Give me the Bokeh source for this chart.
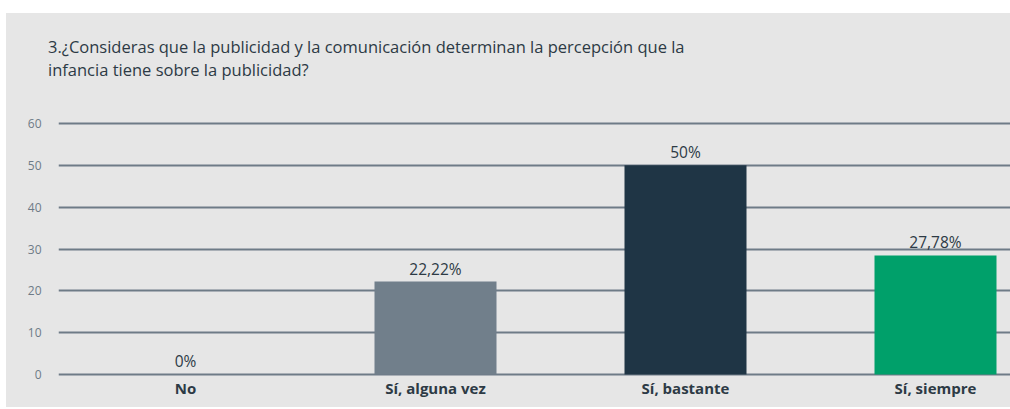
from bokeh.plotting import figure
from bokeh.models import ColumnDataSource, Range1d, FixedTicker, Spacer, Div
from bokeh.layouts import column, row
from bokeh.core.properties import value
from bokeh.embed import file_html
from bokeh.resources import INLINE

categories = ["No", "Sí, alguna vez", "Sí, bastante", "Sí, siempre"]
heights = [0, 22.22, 50, 28.45]
value_labels = ["0%", "22,22%", "50%", "27,78%"]
colors = ["#717f8b", "#717f8b", "#1f3545", "#00a06a"]
y_ticks = [0, 10, 20, 30, 40, 50, 60]
title_lines = ["3.¿Consideras que la publicidad y la comunicación determinan la percepción que la",
               "infancia tiene sobre la publicidad?"]

BG = "#e6e6e6"
GRID = "#6e7b87"
TXT = "#2d3a45"
FONT = "Open Sans"

xs = [i + 0.5 for i in range(len(categories))]
src = ColumnDataSource(dict(x=xs, top=heights, label=value_labels, color=colors))

title_div = Div(
    text=('<div style="padding:22px 0 0 42px; font-family:\'Open Sans\'; font-size:16.5px; '
          'line-height:23px; color:%s; white-space:nowrap;">%s</div>' % (TXT, "<br>".join(title_lines))),
    width=1004, height=94, styles={"background-color": BG}, margin=0)

p = figure(width=1004, height=300, output_backend="svg", toolbar_location=None,
           x_range=Range1d(-0.008, 3.8), y_range=Range1d(-0.48, 61.44),
           min_border_left=52, min_border_right=0, min_border_top=10, min_border_bottom=31)
p.background_fill_color = BG
p.border_fill_color = BG
p.outline_line_color = None

p.vbar(x="x", top="top", width=0.488, bottom=0, fill_color="color", line_color=None, source=src)
p.text(x="x", y="top", text="label", source=src, text_align="center", text_baseline="bottom",
       y_offset=-2, text_font=value(FONT), text_font_size="15.5px", text_color=TXT)

p.xaxis.ticker = FixedTicker(ticks=xs)
p.xaxis.major_label_overrides = {x: c for x, c in zip(xs, categories)}
p.xaxis.axis_line_color = None
p.xaxis.major_tick_line_color = None
p.xaxis.minor_tick_line_color = None
p.xaxis.major_label_standoff = -5
p.xaxis.major_label_text_font = FONT
p.xaxis.major_label_text_font_size = "15px"
p.xaxis.major_label_text_font_style = "bold"
p.xaxis.major_label_text_color = TXT

p.yaxis.ticker = FixedTicker(ticks=y_ticks)
p.yaxis.axis_line_color = None
p.yaxis.major_tick_line_color = None
p.yaxis.minor_tick_line_color = None
p.yaxis.major_label_standoff = 11
p.yaxis.major_label_text_font = FONT
p.yaxis.major_label_text_font_size = "12px"
p.yaxis.major_label_text_color = GRID

p.xgrid.grid_line_color = None
p.ygrid.grid_line_color = GRID
p.ygrid.grid_line_width = 2
p.ygrid.ticker = FixedTicker(ticks=y_ticks)

panel = column(title_div, p, styles={"background-color": BG})
layout = row(Spacer(width=6, height=407), column(Spacer(width=1004, height=13), panel))
open("out.html", "w").write(file_html(layout, INLINE))
